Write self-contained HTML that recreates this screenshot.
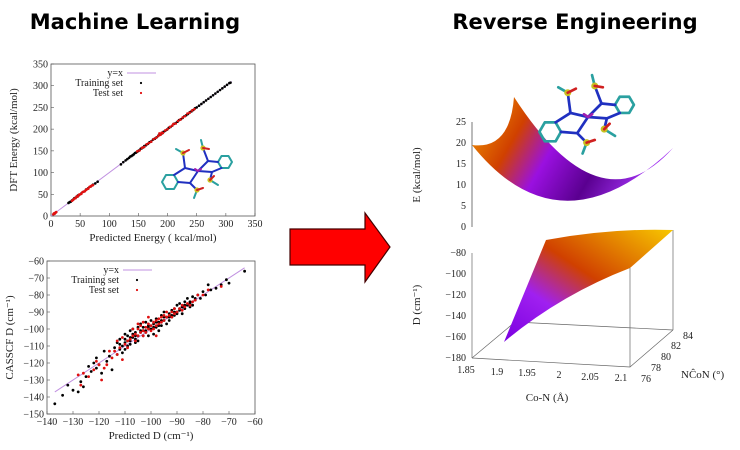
<!DOCTYPE html>
<html><head><meta charset="utf-8"><style>
html,body{margin:0;padding:0;background:#fff;}
svg{display:block;font-family:"Liberation Serif",serif;}
.t{font-family:"DejaVu Sans","Liberation Sans",sans-serif;font-weight:bold;font-size:21px;}
.tk{font-size:10px;fill:#222;}
.at{font-size:11px;fill:#222;}
</style></head><body>
<svg id="fig" width="740" height="450" viewBox="0 0 740 450">
<defs>
  <g id="mol">
    <g fill="none" stroke-linecap="round" stroke-linejoin="round" stroke-width="2">
      <polygon points="-20,11 -24,18 -32,18 -36,11 -32,4 -24,4" stroke="#2aa0a0"/>
      <polygon points="34,-9 30.5,-3 23.5,-3 20,-9 23.5,-15 30.5,-15" stroke="#2aa0a0"/>
      <polyline points="-24,4 -13,-3 0,0 -8,12 -20,11" stroke="#2030c0"/>
      <polyline points="20,-9 10,-10 0,0 14,1 23.5,-3" stroke="#2030c0"/>
      <polyline points="-3,-2 0,0 3,-2" stroke="#a020b0"/>
      <polyline points="-13,-3 -15,-18" stroke="#2030c0"/>
      <polyline points="10,-10 5,-23" stroke="#2030c0"/>
      <polyline points="14,1 12,9" stroke="#2030c0"/>
      <polyline points="-8,12 -1,19" stroke="#2030c0"/>
      <polyline points="-15,-18 -22,-22" stroke="#2aa0a0"/>
      <polyline points="5,-23 3,-31" stroke="#2aa0a0"/>
      <polyline points="12,9 20,14" stroke="#2aa0a0"/>
      <polyline points="-1,19 -4,27" stroke="#2aa0a0"/>
      <circle cx="-15" cy="-18" r="1.6" fill="#c8c020" stroke="#c8c020"/>
      <circle cx="5" cy="-23" r="1.6" fill="#c8c020" stroke="#c8c020"/>
      <circle cx="12" cy="9" r="1.6" fill="#c8c020" stroke="#c8c020"/>
      <circle cx="-1" cy="19" r="1.6" fill="#c8c020" stroke="#c8c020"/>
      <polyline points="-15,-18 -9,-21 M-15,-18 -11,-14" stroke="#d02020"/>
      <polyline points="5,-23 11,-22 M5,-23 0,-20" stroke="#d02020"/>
      <polyline points="12,9 16,5 M12,9 8,13" stroke="#d02020"/>
      <polyline points="-1,19 5,17 M-1,19 4,23" stroke="#d02020"/>
    </g>
  </g>
</defs>
<text class="t" x="135" y="29" text-anchor="middle">Machine Learning</text>
<text class="t" x="575" y="29" text-anchor="middle">Reverse Engineering</text>

<g id="c1"></g>
<g id="c2"></g>

<use href="#mol" transform="translate(198,171)"/>

<path d="M290 229 H365 V213 L390 247 L365 282 V265 H290 Z" fill="#ff0000" stroke="#400" stroke-width="1.2"/>

<g>
  <defs>
    <linearGradient id="ge" x1="0" y1="0" x2="1" y2="0.3">
      <stop offset="0" stop-color="#f5a000"/><stop offset="0.3" stop-color="#d04000"/>
      <stop offset="0.5" stop-color="#9a10e0"/><stop offset="0.75" stop-color="#5a0090"/><stop offset="1" stop-color="#a030f0"/>
    </linearGradient>
    <linearGradient id="gd" x1="1" y1="0" x2="0" y2="1">
      <stop offset="0" stop-color="#f8c800"/><stop offset="0.45" stop-color="#d04000"/>
      <stop offset="0.7" stop-color="#a020f0"/><stop offset="1" stop-color="#7a00e0"/>
    </linearGradient>
  </defs>
  <line x1="472" y1="122" x2="472" y2="227" stroke="#555" stroke-width="0.8"/>
  <path d="M514 97 Q510 150 472 145 Q560 255 673 148 Q600 230 514 97 Z" fill="url(#ge)"/>
  <g class="tk" text-anchor="end">
    <text x="466" y="125">25</text><text x="466" y="146">20</text><text x="466" y="167">15</text>
    <text x="466" y="188">10</text><text x="466" y="209">5</text><text x="466" y="230">0</text>
  </g>
  <text class="at" transform="translate(420,175) rotate(-90)" text-anchor="middle">E (kcal/mol)</text>
</g>

<use href="#mol" transform="translate(588,117) scale(1.35)"/>

<g>
  <g stroke="#666" stroke-width="0.7" fill="none">
    <line x1="472" y1="253" x2="472" y2="358"/>
    <polyline points="472,358 630,367 673,330"/>
    <polyline points="472,358 515,322 673,330"/>
    <line x1="630" y1="367" x2="630" y2="268"/>
    <line x1="673" y1="330" x2="673" y2="230"/>
  </g>
  <path d="M546 240 Q610 228 673 230 L630 268 Q560 295 504 342 Z" fill="url(#gd)"/>
  <g class="tk" text-anchor="end">
    <text x="466" y="256">−80</text><text x="466" y="277">−100</text><text x="466" y="298">−120</text>
    <text x="466" y="319">−140</text><text x="466" y="340">−160</text><text x="466" y="361">−180</text>
  </g>
  <g class="tk" text-anchor="middle">
    <text x="466" y="373">1.85</text><text x="497" y="375">1.9</text><text x="527" y="376">1.95</text>
    <text x="559" y="378">2</text><text x="590" y="380">2.05</text><text x="621" y="381">2.1</text>
  </g>
  <g class="tk">
    <text x="641" y="382">76</text><text x="651" y="371">78</text><text x="661" y="360">80</text>
    <text x="671" y="349">82</text><text x="683" y="339">84</text>
  </g>
  <text class="at" x="547" y="401" text-anchor="middle">Co-N (Å)</text>
  <text class="at" x="681" y="378">NĈoN (°)</text>
  <text class="at" transform="translate(420,305) rotate(-90)" text-anchor="middle">D (cm⁻¹)</text>
</g>
<script>
// ---- chart 1 data: [predicted, DFT] ----
const e_train=[[30,30],[32,32],[34,33],[36,36],[38,38],[40,41],[42,42],[44,44],[46,47],[48,48],[52,52],[56,56],[60,61],[64,64],[68,68],[72,72],[76,75],[80,79],
[120,119],[124,124],[128,128],[131,131],[134,134],[136,137],[138,138],[140,140],[142,142],[144,145],[146,146],[148,148],[150,150],[152,152],[154,155],[156,156],[158,158],[160,161],[163,163],[166,166],[169,170],[172,172],[175,176],[178,178],[181,181],[184,185],[187,187],[190,190],[193,194],[196,196],[199,199],[202,203],[205,205],[208,208],[211,212],[214,214],[217,217],[220,221],[223,223],[226,226],[229,230],[232,232],[235,235],[238,239],[241,241],[244,244],[247,248],[250,250],[254,254],[258,258],[262,262],[266,266],[270,270],[274,274],[278,278],[282,282],[286,286],[290,290],[294,294],[298,298],[302,302],[306,306],[308,307]];
const e_test=[[4,4],[5,6],[6,5],[7,7],[8,8],[9,9],[36,35],[38,37],[40,40],[42,41],[44,45],[46,45],[48,49],[50,50],[52,51],[54,55],[56,56],[58,57],[60,60],[62,62],[64,63],[66,67],[68,68],[70,70],[72,71],
[148,149],[152,151],[156,157],[160,159],[164,165],[168,168],[172,171],[176,177],[180,180],[184,184],[186,190],[188,187],[190,192],[192,191],[196,197],[200,200],[204,205],[208,208],[210,212],[214,213],[218,219],[222,222],[226,227],[230,230],[234,236],[238,238],[242,243],[246,246]];
const e_ticks=[0,50,100,150,200,250,300,350];
// ---- chart 2 data: [predicted, CASSCF] ----
const d_train=[[-137,-144],[-134,-139],[-132,-133],[-130,-136],[-128,-137],[-127,-131],[-126,-134],[-125,-128],[-124,-122],[-123,-125],[-122,-120],[-121,-123],[-121,-117],[-120,-121],[-119,-126],[-118,-113],[-117,-119],[-116,-116],[-115,-124],[-114,-111],[-113,-115],[-113,-108],[-112,-112],[-112,-106],[-111,-110],[-111,-114],[-110,-106],[-110,-103],[-109,-110],[-109,-104],[-108,-101],[-108,-107],[-107,-105],[-107,-100],[-106,-102],[-106,-108],[-105,-99],[-105,-104],[-104,-101],[-104,-97],[-103,-104],[-103,-99],[-102,-96],[-102,-102],[-101,-98],[-101,-104],[-100,-95],[-100,-100],[-99,-97],[-99,-103],[-98,-94],[-98,-99],[-97,-96],[-97,-101],[-96,-92],[-96,-98],[-95,-95],[-95,-90],[-94,-93],[-94,-97],[-93,-91],[-93,-95],[-92,-89],[-92,-93],[-91,-88],[-91,-92],[-90,-86],[-90,-91],[-89,-89],[-89,-85],[-88,-87],[-88,-91],[-87,-84],[-87,-88],[-86,-86],[-86,-82],[-85,-87],[-85,-84],[-84,-81],[-84,-86],[-83,-83],[-82,-80],[-81,-82],[-80,-78],[-79,-80],[-78,-74],[-77,-77],[-75,-76],[-73,-74],[-71,-71],[-70,-73],[-64,-66],
[-110,-112],[-108,-109],[-106,-104],[-104,-102],[-102,-101],[-100,-100],[-98,-96],[-96,-95],[-94,-93],[-92,-92],[-90,-90],[-88,-87],[-109,-107],[-107,-103],[-105,-107],[-103,-101],[-101,-99],[-99,-99],[-97,-98],[-95,-93],[-93,-93],[-91,-90],[-89,-88],[-87,-86],[-85,-85],[-83,-82],[-112,-109],[-110,-108],[-108,-105],[-106,-106]];
const d_test=[[-128,-127],[-127,-133],[-126,-126],[-124,-128],[-122,-124],[-121,-119],[-120,-121],[-119,-130],[-118,-123],[-117,-121],[-116,-113],[-115,-117],[-114,-113],[-113,-115],[-112,-111],[-111,-118],[-110,-109],[-109,-107],[-108,-106],[-107,-104],[-106,-103],[-106,-107],[-105,-104],[-105,-100],[-104,-102],[-104,-98],[-103,-101],[-103,-104],[-102,-99],[-102,-102],[-101,-100],[-101,-97],[-100,-101],[-100,-98],[-99,-96],[-99,-100],[-98,-98],[-98,-95],[-97,-97],[-97,-94],[-96,-96],[-96,-93],[-95,-95],[-95,-92],[-94,-93],[-94,-90],[-93,-92],[-92,-93],[-92,-90],[-91,-91],[-91,-88],[-90,-90],[-89,-88],[-88,-89],[-88,-86],[-87,-87],[-86,-85],[-85,-86],[-84,-84],[-83,-83],[-82,-80],[-80,-80],[-78,-77],[-73,-75],[-103,-96],[-101,-93],[-98,-104],[-105,-97],[-107,-100],[-109,-111],[-111,-105],[-113,-107]];
const d_ticksX=[-140,-130,-120,-110,-100,-90,-80,-70,-60];
const d_ticksY=[-60,-70,-80,-90,-100,-110,-120,-130,-140,-150];

const NS="http://www.w3.org/2000/svg";
function mk(p,tag,at){const e=document.createElementNS(NS,tag);for(const k in at)e.setAttribute(k,at[k]);p.appendChild(e);return e;}

function scatter(g,o){
  const sx=v=>o.x0+(v-o.xmin)/(o.xmax-o.xmin)*(o.x1-o.x0);
  const sy=v=>o.y0-(v-o.ymin)/(o.ymax-o.ymin)*(o.y0-o.y1);
  const fr=mk(g,'rect',{x:o.x0,y:o.y1,width:o.x1-o.x0,height:o.y0-o.y1,fill:'none',stroke:'#555','stroke-width':0.8});
  
  
  o.xt.forEach(v=>{
    const x=sx(v);
    mk(g,'line',{x1:x,x2:x,y1:o.y0,y2:o.y0-3,stroke:'#555','stroke-width':0.6});
    const t=mk(g,'text',{x:x,y:o.y0+11,'text-anchor':'middle',class:'tk'});t.textContent=String(v).replace('-','−');
    
    
  });
  o.yt.forEach(v=>{
    const y=sy(v);
    mk(g,'line',{x1:o.x0,x2:o.x0+3,y1:y,y2:y,stroke:'#555','stroke-width':0.6});
    const t=mk(g,'text',{x:o.x0-3,y:y+3.5,'text-anchor':'end',class:'tk'});t.textContent=String(v).replace('-','−');
    
    
  });
  const lo=Math.max(o.xmin,o.ymin,o.lmin),hi=Math.min(o.xmax,o.ymax,o.lmax);
  const ln=mk(g,'line',{x1:sx(lo),y1:sy(lo),x2:sx(hi),y2:sy(hi),stroke:'#c090e0','stroke-width':1});
  
  
  o.train.forEach(p=>{const c=mk(g,'circle',{cx:sx(p[0]),cy:sy(p[1]),r:o.r,fill:'#000'});
    
    });
  o.test.forEach(p=>{const c=mk(g,'circle',{cx:sx(p[0]),cy:sy(p[1]),r:o.r,fill:'#e01010'});
    
    });
  const L=[['y=x','line'],['Training set','#000'],['Test set','#e01010']];
  L.forEach((l,i)=>{
    const y=o.y1+9+i*10;
    const t=mk(g,'text',{x:o.x0+72,y:y+3,'text-anchor':'end',class:'tk'});t.textContent=l[0];
    
    
    if(l[1]==='line')mk(g,'line',{x1:o.x0+76,x2:o.x0+105,y1:y,y2:y,stroke:'#c090e0','stroke-width':1});
    else mk(g,'circle',{cx:o.x0+90,cy:y,r:1.1,fill:l[1]});
  });
  const xt=mk(g,'text',{x:(o.x0+o.x1)/2,y:o.y0+25,'text-anchor':'middle',class:'at'});xt.textContent=o.xl;
  
  
  const yt=mk(g,'text',{transform:`translate(${o.x0-34},${(o.y0+o.y1)/2}) rotate(-90)`,'text-anchor':'middle',class:'at'});yt.textContent=o.yl;
  
  
}
scatter(document.getElementById('c1'),{x0:51,x1:255,y0:216,y1:64,xmin:0,xmax:350,ymin:0,ymax:350,lmin:0,lmax:310,r:1.3,
  xt:e_ticks,yt:e_ticks,train:e_train,test:e_test,xl:'Predicted Energy ( kcal/mol)',yl:'DFT Energy (kcal/mol)'});
scatter(document.getElementById('c2'),{x0:47,x1:255,y0:414,y1:261,xmin:-140,xmax:-60,ymin:-150,ymax:-60,lmin:-137,lmax:-64,r:1.4,
  xt:d_ticksX,yt:d_ticksY,train:d_train,test:d_test,xl:'Predicted D (cm⁻¹)',yl:'CASSCF D (cm⁻¹)'});
</script>
</svg>
</body></html>
